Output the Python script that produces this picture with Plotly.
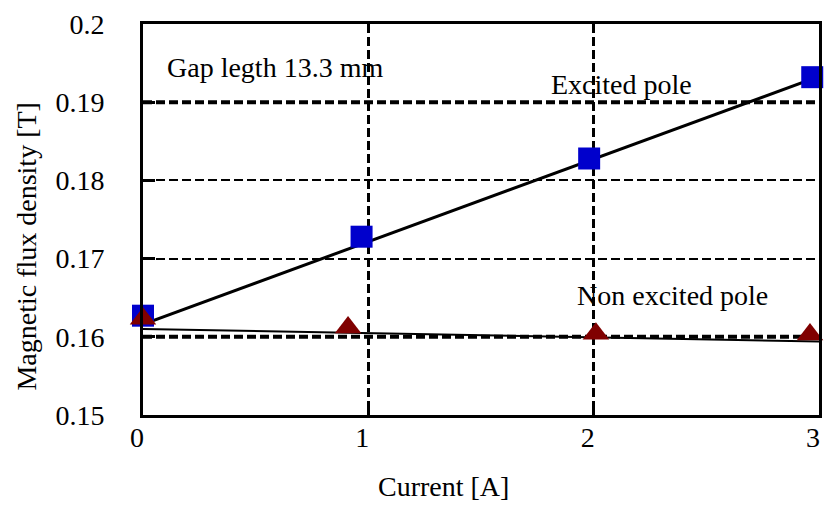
import plotly.graph_objects as go

# ---- data ----
current_excited = [0.0, 0.97, 1.98, 2.97]
flux_excited = [0.1627, 0.1728, 0.1828, 0.1932]

current_nonexcited = [0.0, 0.91, 2.01, 2.96]
flux_nonexcited = [0.1623, 0.1612, 0.1604, 0.1603]

fit_current = [0.0, 3.0]
fit_excited = [0.1616, 0.1933]
fit_nonexcited = [0.1610, 0.1594]

x_ticks = [0, 1, 2, 3]
x_ticktext = ["0", "1", "2", "3"]
y_ticks = [0.15, 0.16, 0.17, 0.18, 0.19, 0.2]
y_ticktext = ["0.15", "0.16", "0.17", "0.18", "0.19", "0.2"]
heavy_levels = [0.16, 0.19]

FONT = "Liberation Serif, Times New Roman, serif"
FS = 28

fig = go.Figure()

# trend lines
fig.add_trace(go.Scatter(x=fit_current, y=fit_excited, mode="lines",
                         line=dict(color="black", width=3), showlegend=False,
                         hoverinfo="skip"))
fig.add_trace(go.Scatter(x=fit_current, y=fit_nonexcited, mode="lines",
                         line=dict(color="black", width=2), showlegend=False,
                         hoverinfo="skip"))
# markers
fig.add_trace(go.Scatter(x=current_excited, y=flux_excited, mode="markers",
                         marker=dict(symbol="square", size=22, color="#0000CC",
                                     line=dict(width=0)),
                         cliponaxis=False, showlegend=False, name="Excited pole"))
fig.add_trace(go.Scatter(x=current_nonexcited, y=flux_nonexcited, mode="markers",
                         marker=dict(symbol="triangle-up", size=23, color="#800000",
                                     line=dict(width=0)),
                         cliponaxis=False, showlegend=False, name="Non excited pole"))

# heavier dashed lines at selected levels
for lv in heavy_levels:
    fig.add_shape(type="line", xref="paper", x0=0, x1=1, yref="y", y0=lv, y1=lv,
                  line=dict(color="black", width=4, dash="9px,4px"), layer="below")

fig.add_annotation(text="Gap legth 13.3 mm", xref="paper", yref="paper",
                   x=0.032, y=0.89, xanchor="left", yanchor="middle",
                   showarrow=False, font=dict(family=FONT, size=FS, color="black"))
fig.add_annotation(text="Excited pole", xref="paper", yref="paper",
                   x=0.708, y=0.845, xanchor="center", yanchor="middle",
                   showarrow=False, font=dict(family=FONT, size=FS, color="black"))
fig.add_annotation(text="Non excited pole", xref="paper", yref="paper",
                   x=0.784, y=0.305, xanchor="center", yanchor="middle",
                   showarrow=False, font=dict(family=FONT, size=FS, color="black"))
# axis titles
fig.add_annotation(text="Current [A]", xref="paper", yref="paper",
                   x=0.445, y=-0.184, xanchor="center", yanchor="middle",
                   showarrow=False, font=dict(family=FONT, size=FS, color="black"))
fig.add_annotation(text="Magnetic flux density [T]", xref="paper", yref="paper",
                   x=-0.172, y=0.43, xanchor="center", yanchor="middle",
                   textangle=-90, showarrow=False,
                   font=dict(family=FONT, size=FS, color="black"))

fig.update_xaxes(range=[0, 3], tickvals=x_ticks, ticktext=x_ticktext,
                 showline=True, linecolor="black", linewidth=3, mirror=True,
                 ticks="inside", ticklen=10, tickwidth=3, tickcolor="black",
                 showgrid=True, gridcolor="black", gridwidth=3, griddash="9px,4px",
                 zeroline=False, ticklabelstandoff=-5, ticklabelshift=-6,
                 ticklabeloverflow="allow",
                 tickfont=dict(family=FONT, size=FS, color="black"))
fig.update_yaxes(range=[0.15, 0.2], tickvals=y_ticks, ticktext=y_ticktext,
                 showline=True, linecolor="black", linewidth=3, mirror=True,
                 ticks="inside", ticklen=12, tickwidth=3, tickcolor="black",
                 showgrid=True, gridcolor="black", gridwidth=2, griddash="9px,4px",
                 zeroline=False, ticklabelstandoff=30,
                 tickfont=dict(family=FONT, size=FS, color="black"))

fig.update_layout(width=825, height=506,
                  margin=dict(l=143, r=3, t=24, b=91),
                  plot_bgcolor="white", paper_bgcolor="white",
                  font=dict(family=FONT, size=FS, color="black"),
                  showlegend=False)

fig.write_html("out.html")
